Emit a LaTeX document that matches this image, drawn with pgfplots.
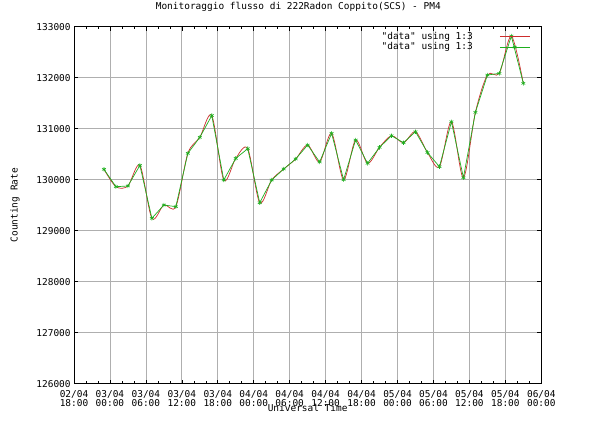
\documentclass[border=0pt]{standalone}
\usepackage{pgfplots}
\pgfplotsset{compat=1.18}
\usepackage{fontspec}
\setmainfont{DejaVu Sans Mono}[Ligatures=TeXOff]

\definecolor{gpred}{RGB}{205,45,45}
\definecolor{gpgreen}{RGB}{30,175,30}
\definecolor{gridgray}{RGB}{175,175,175}

% hours counted from 02/04 18:00, one reading every 2 h
\pgfplotstableread{
h     rate
5     130204
7     129863
9     129877
11    130282
13    129243
15    129504
17    129471
19    130517
21    130831
23    131258
25    129994
27    130419
29    130608
31    129549
33    129994
35    130210
37    130406
39    130680
41    130347
43    130909
45    130000
47    130778
49    130321
51    130635
53    130862
55    130725
57    130941
59    130533
61    130255
63    131137
65    130039
67    131321
69    132052
71    132085
73    132817
75    131889
}\radon

\begin{document}
\fontsize{9.5}{9}\selectfont
\begin{tikzpicture}
\path[use as bounding box] (0bp,0bp) rectangle (604bp,436bp);
\begin{axis}[
  at={(74bp,52.3bp)}, anchor=south west,
  scale only axis, width=467.3bp, height=357bp,
  xmin=0, xmax=78, ymin=126000, ymax=133000,
  xtick={0,6,...,78},
  xticklabels={{02/04\\18:00},{03/04\\00:00},{03/04\\06:00},{03/04\\12:00},
    {03/04\\18:00},{04/04\\00:00},{04/04\\06:00},{04/04\\12:00},{04/04\\18:00},
    {05/04\\00:00},{05/04\\06:00},{05/04\\12:00},{05/04\\18:00},{06/04\\00:00}},
  xticklabel style={align=center, yshift=-3bp},
  minor x tick num=2,
  ytick={126000,127000,...,133000},
  scaled y ticks=false,
  yticklabel style={/pgf/number format/.cd, fixed, precision=0, 1000 sep={}},
  /pgf/number format/assume math mode=true,
  tick pos=both, tick align=inside,
  major tick length=4bp, minor tick length=2.5bp,
  every tick/.style={black, line width=0.6bp},
  grid=major,
  major grid style={gridgray, line width=0.7bp},
  axis line style={black, line width=0.8bp},
  title={Monitoraggio flusso di 222Radon Coppito(SCS) - PM4},
  title style={at={(axis description cs:0.48,1.038)}, anchor=center},
  xlabel={Universal Time},
  xlabel style={at={(axis description cs:0.5,-0.067)}, anchor=center},
  ylabel={Counting Rate},
  ylabel style={at={(axis description cs:-0.126,0.5)}, anchor=center},
  legend plot pos=right,
  legend cell align=right,
  legend image code/.code={\draw[mark repeat=2,mark phase=2,#1]
    plot coordinates {(0bp,0bp) (15bp,0bp) (30bp,0bp)};},
  legend style={draw=none, fill=none,
    at={(axis description cs:1,1)}, anchor=north east,
    xshift=-8bp, yshift=-3bp,
    nodes={inner sep=0.6bp},
    row sep=0.5bp,
    /tikz/every odd column/.append style={column sep=26bp}},
]
\addplot[gpred, line width=0.7bp, smooth, no markers] table[x=h, y=rate] {\radon};
\addlegendentry{"data" using 1:3}
\addplot[gpgreen, line width=0.7bp, mark=asterisk, mark size=2.2bp,
  mark options={line width=0.6bp}] table[x=h, y=rate] {\radon};
\addlegendentry{"data" using 1:3}
\end{axis}
\end{tikzpicture}
\end{document}
